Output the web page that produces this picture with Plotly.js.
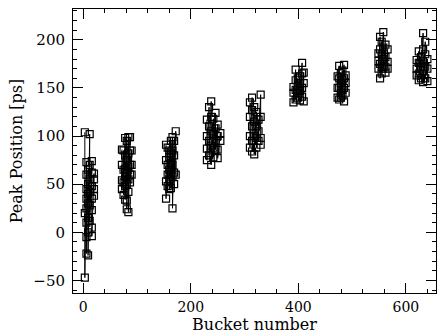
<!DOCTYPE html>
<html>
<head>
<meta charset="utf-8">
<script src="https://cdn.plot.ly/plotly-3.0.1.min.js"></script>
<style>html,body{margin:0;padding:0;background:#fff;}#chart{width:437px;height:334px;}</style>
</head>
<body>
<div id="chart"></div>
<script>
// Bucket numbers and peak positions [ps], one pair of arrays per bunch train
const buckets1 = [3,3,3, 6,6,6,6,6,6,6,6, 9,9,9,9,9,9,9, 12,12,12,12,12,12, 16,16,16,16,16,16,16, 20,20,20,20];
const peaks1   = [104,20,-47, 73,60,45,35,25,10,-5,-22, 65,50,40,30,15,0,-24, 102,70,55,42,28,12, 74,62,48,35,23,5,-4, 61,55,45,38];

const buckets2 = [72,72,72,72, 75,75,75,75, 78,78,78,78,78,78, 81,81,81,81,81,81, 84,84,84,84,84,84, 87,87,87,87,87, 90,90,90];
const peaks2   = [86,70,54,45, 85,65,52,39, 98,80,66,58,48,34, 95,75,62,50,33,24, 99,82,68,55,42,21, 99,85,70,60,52, 85,70,60];

const buckets3 = [154,154,154,154, 157,157,157,157, 160,160,160,160,160, 163,163,163,163,163, 166,166,166,166,166, 169,169,169,169, 172,172];
const peaks3   = [91,75,53,35, 88,70,60,48, 85,78,65,55,45, 95,82,72,60,46, 99,85,70,58,25, 95,80,62,50, 105,60];

const buckets4 = [230,230,230,230, 234,234,234,234, 238,238,238,238,238, 242,242,242,242, 246,246,246,246, 250,250,250,250, 255,255];
const peaks4   = [117,100,87,75, 130,110,95,80, 136,120,105,90,70, 118,102,88,78, 124,108,95,86, 112,100,86,77, 103,95];

const buckets5 = [310,310,310,310, 314,314,314,314,314, 318,318,318,318, 322,322,322,322, 326,326,326, 330,330,330,330];
const peaks5   = [135,120,100,88, 140,127,110,95,84, 130,115,100,81, 125,110,98,88, 117,105,95, 143,120,98,91];

const buckets6 = [391,391,391, 395,395,395,395, 399,399,399,399, 403,403,403,403, 407,407,407,407, 410,410,410];
const peaks6   = [151,145,135, 169,158,148,138, 160,152,145,140, 162,155,147,137, 176,165,150,141, 166,155,136];

const buckets7 = [473,473,473, 476,476,476,476, 479,479,479,479, 482,482,482,482, 485,485,485,485, 488,488,488];
const peaks7   = [162,150,140, 173,160,150,138, 165,155,145,140, 168,158,148,142, 174,160,150,136, 163,155,145];

const buckets8 = [549,549,549, 552,552,552,552, 555,555,555,555, 558,558,558,558, 562,562,562,562, 566,566,566];
const peaks8   = [186,178,170, 203,190,175,160, 198,185,172,165, 208,192,180,170, 195,182,172,166, 190,177,170];

const buckets9 = [620,620,620, 624,624,624,624, 628,628,628, 632,632,632,632,632, 636,636,636,636, 640,640,640];
const peaks9   = [179,170,163, 188,176,165,158, 182,172,160, 207,190,178,168,156, 198,185,172,160, 180,170,157];

const xTickVals = [0, 200, 400, 600];
const yTickVals = [-50, 0, 50, 100, 150, 200];

const trains = [
  [buckets1, peaks1], [buckets2, peaks2], [buckets3, peaks3],
  [buckets4, peaks4], [buckets5, peaks5], [buckets6, peaks6],
  [buckets7, peaks7], [buckets8, peaks8], [buckets9, peaks9]
];

const traces = trains.map(([x, y]) => ({
  type: 'scatter',
  mode: 'lines+markers',
  x: x, y: y,
  line: {color: '#000', width: 1},
  marker: {symbol: 'square-open', size: 7, color: '#000', line: {width: 1.2, color: '#000'}},
  showlegend: false,
  hoverinfo: 'x+y'
}));

const tickFont = {family: '"DejaVu Serif", serif', color: '#000', size: 14};
const titleFont = {family: '"DejaVu Serif", serif', color: '#000', size: 16};

const layout = {
  width: 437, height: 334,
  margin: {l: 73, r: 1, t: 9, b: 41},
  paper_bgcolor: '#fff', plot_bgcolor: '#fff',
  font: tickFont,
  showlegend: false,
  xaxis: {
    range: [-19, 656],
    tickvals: xTickVals,
    ticks: 'inside', ticklen: 10, tickwidth: 1, tickcolor: '#000',
    ticklabelstandoff: 1,
    minor: {ticks: 'inside', dtick: 40, tick0: 0, ticklen: 4, tickwidth: 1, tickcolor: '#000'},
    showline: true, linecolor: '#000', linewidth: 1, mirror: 'allticks',
    showgrid: false, zeroline: false,
    tickfont: tickFont,
    title: {text: 'Bucket number', font: titleFont, standoff: 2}
  },
  yaxis: {
    range: [-63, 232],
    tickvals: yTickVals,
    ticks: 'inside', ticklen: 10, tickwidth: 1, tickcolor: '#000',
    ticklabelstandoff: 4,
    minor: {ticks: 'inside', dtick: 10, tick0: 0, ticklen: 4, tickwidth: 1, tickcolor: '#000'},
    showline: true, linecolor: '#000', linewidth: 1, mirror: 'allticks',
    showgrid: false, zeroline: false,
    tickfont: {family: '"DejaVu Serif", serif', color: '#000', size: 15},
    title: {text: 'Peak Position [ps]', font: titleFont, standoff: 6}
  }
};

Plotly.newPlot('chart', traces, layout, {staticPlot: true, displayModeBar: false});
</script>
</body>
</html>
